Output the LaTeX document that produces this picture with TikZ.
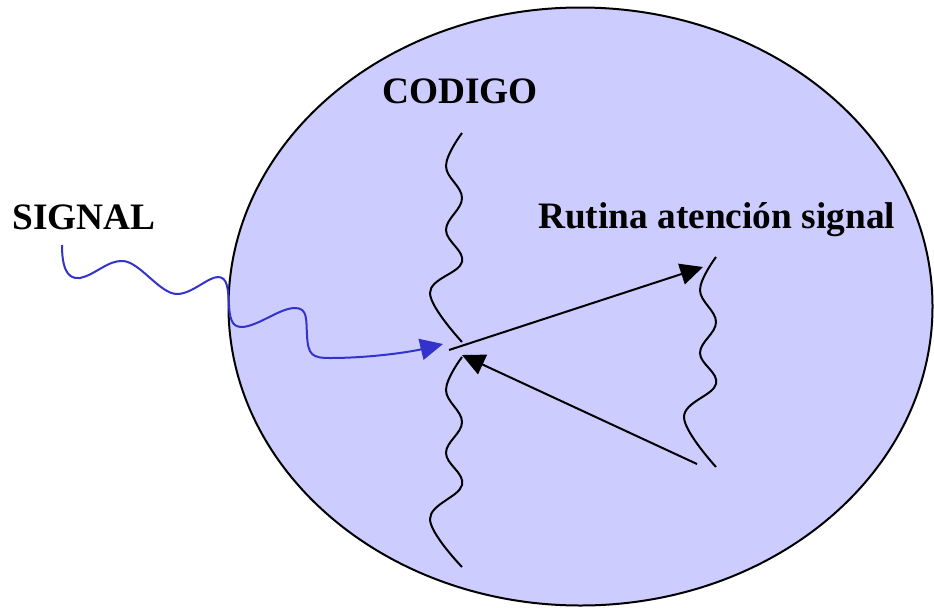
\documentclass[tikz,border=0pt]{standalone}
\usepackage{fontspec}
\setmainfont{Liberation Serif}
\usetikzlibrary{arrows.meta}
\definecolor{procfill}{HTML}{CCCCFF}
\definecolor{sigblue}{HTML}{3333CC}

\begin{document}
\begin{tikzpicture}[x=0.75pt, y=-0.75pt,
  every node/.style={font=\fontsize{28}{32}\selectfont\bfseries, inner sep=0pt},
  flow/.style={line width=1.5pt, black},
  jump/.style={line width=1.5pt, -{Triangle[length=17pt,width=16pt]}}]
  \useasboundingbox (0,0) rectangle (934,607);
  % process
  \draw[fill=procfill, line width=1.5pt] (580.5,306.5) ellipse [x radius=352, y radius=299];
  % labels
  \node[anchor=base west] (signal) at (12,229) {SIGNAL};
  \node[anchor=base west] (codigo) at (382,103) {CODIGO};
  \node[anchor=base west] (rutina) at (538,228) {Rutina atención signal};
  % end points of the threads
  \coordinate (codeStop) at (449,350);
  \coordinate (codeBack) at (462,355);
  \coordinate (rutStart) at (703,267);
  \coordinate (rutEnd) at (697,464);
  \coordinate (sigStart) at (62,245);
  \coordinate (sigHit) at (443,344);
  % main code thread, cut where the signal comes in
  \draw[flow] plot[smooth, tension=0.65] coordinates {(462,133) (446,166) (462,198) (446,230) (462,262) (430,293) (462,342)};
  \draw[flow] plot[smooth, tension=0.65] coordinates {(462,357) (446,390) (462,422) (446,453) (462,485) (430,519) (462,567)};
  % handler thread
  \draw[flow] plot[smooth, tension=0.65] coordinates {(716,257) (700,290) (716,322) (700,353) (716,384) (684,417) (716,467)};
  % jump to handler and back
  \draw[jump] (codeStop) -- (rutStart);
  \draw[jump] (rutEnd) -- (codeBack);
  % signal
  \draw[jump, sigblue] (sigStart) .. controls (62,265) and (66,280) .. (80,278)
    .. controls (95,275) and (108,260) .. (123,261)
    .. controls (140,262) and (160,294) .. (177,294)
    .. controls (192,294) and (208,277) .. (218,277)
    .. controls (228,277) and (228,290) .. (229,305)
    .. controls (230,325) and (235,327) .. (243,327)
    .. controls (260,325) and (280,308) .. (295,308)
    .. controls (308,308) and (306,320) .. (307,335)
    .. controls (308,355) and (312,358) .. (330,358)
    .. controls (370,358) and (410,352) .. (sigHit);
\end{tikzpicture}
\end{document}
